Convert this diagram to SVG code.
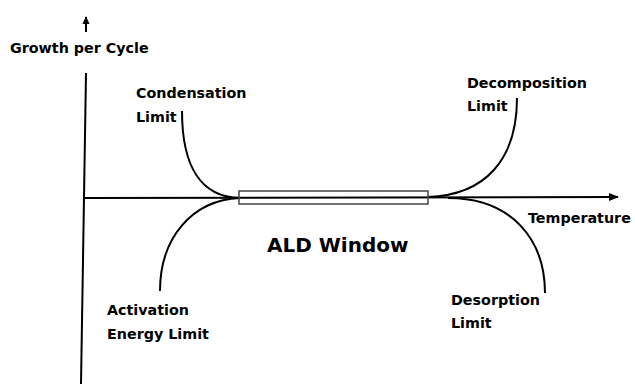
<svg xmlns="http://www.w3.org/2000/svg" width="635" height="384" viewBox="0 0 635 384">
<defs>
<style>
.t{font-family:"DejaVu Sans","Liberation Sans",Arial,sans-serif;font-weight:bold;font-size:14.3px;fill:#000}
.c{fill:none;stroke:#000;stroke-width:2}
</style>
<marker id="ah" markerWidth="10" markerHeight="8" refX="9" refY="4" orient="auto" markerUnits="userSpaceOnUse">
<path d="M0,0 L10,4 L0,8 Z" fill="#000"/>
</marker>
<marker id="ah2" markerWidth="8" markerHeight="8" refX="7" refY="4" orient="auto" markerUnits="userSpaceOnUse">
<path d="M0,0.5 L8,4 L0,7.5 Z" fill="#000"/>
</marker>
</defs>
<rect width="635" height="384" fill="#fff"/>
<g id="connectors">
<line x1="86" y1="32" x2="86" y2="17" stroke="#000" stroke-width="2" marker-end="url(#ah2)"/>
<line x1="86" y1="73" x2="81" y2="384" stroke="#000" stroke-width="2"/>
<line x1="83" y1="198" x2="618" y2="197" stroke="#000" stroke-width="2" marker-end="url(#ah)"/>
<path class="c" d="M182,111 C182,165 200,197 240,198"/>
<path class="c" d="M160,291 C160,238 192,200 240,198"/>
<path class="c" d="M428,197 C485,195 517,160 517,98"/>
<path class="c" d="M448,198 C512,198 545,240 545,293"/>
</g>
<g id="ald-window">
<rect x="239" y="191" width="189" height="13" fill="none" stroke="#444" stroke-width="1.5"/>
<text x="267" y="252" class="t" style="font-size:20px">ALD Window</text>
</g>
<g id="y-label"><text x="10" y="53" class="t">Growth per Cycle</text></g>
<g id="condensation"><text x="136" y="98" class="t">Condensation</text><text x="136" y="122" class="t">Limit</text></g>
<g id="decomposition"><text x="467" y="88" class="t">Decomposition</text><text x="467" y="111" class="t">Limit</text></g>
<g id="temperature"><text x="528" y="223" class="t">Temperature</text></g>
<g id="activation"><text x="107" y="315" class="t">Activation</text><text x="107" y="339" class="t">Energy Limit</text></g>
<g id="desorption"><text x="451" y="305" class="t">Desorption</text><text x="451" y="328" class="t">Limit</text></g>
</svg>
